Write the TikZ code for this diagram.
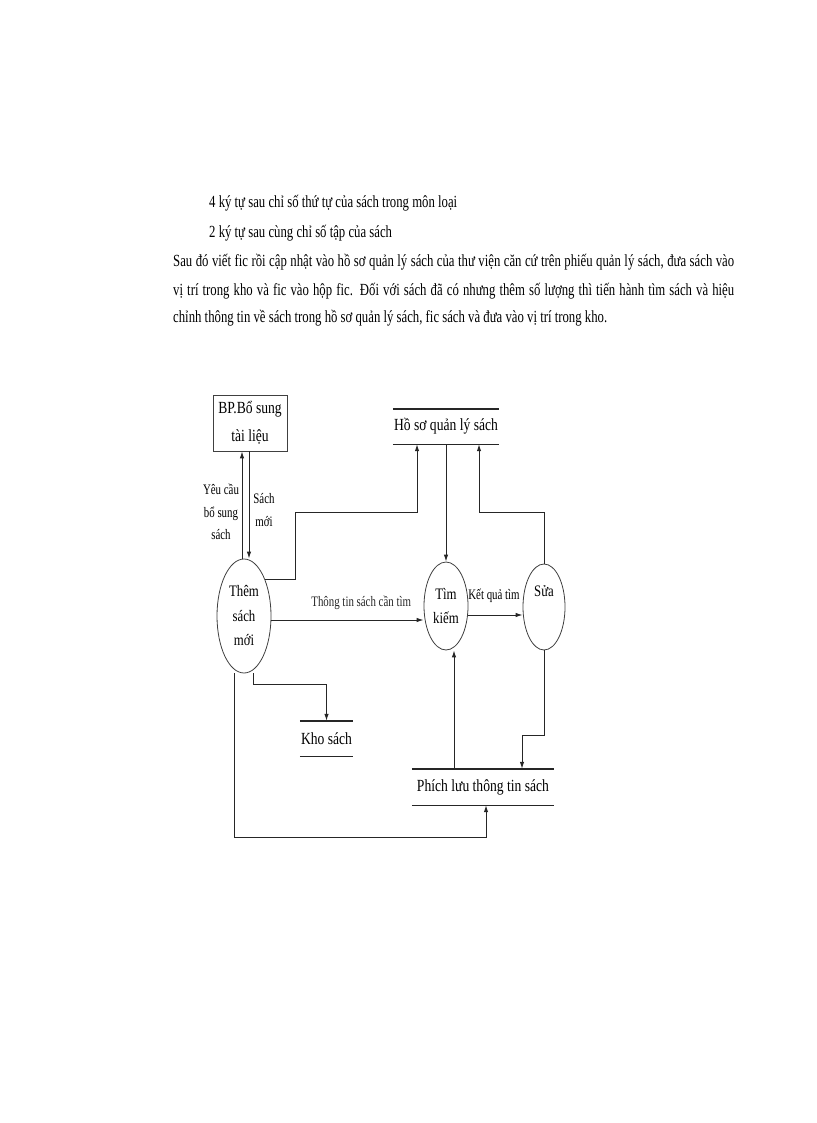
\documentclass[tikz,border=0pt]{standalone}
\usepackage{fontspec}
\setmainfont{Liberation Serif}[FakeStretch=0.8]
\newfontfamily\narrowfont{Liberation Serif}[FakeStretch=0.75]
\usetikzlibrary{arrows.meta,shapes.geometric}

\begin{document}
\begin{tikzpicture}[x=1pt,y=-1pt,
    process/.style={draw=black!75,line width=0.8pt,ellipse,inner sep=0pt,align=center,font=\fontsize{16}{24.5}\selectfont},
    entity/.style={draw=black!75,line width=0.8pt,inner sep=0pt,align=center,font=\fontsize{17}{28}\selectfont},
    store/.style={inner sep=0pt,font=\fontsize{17}{20}\selectfont},
    storeline/.style={line width=1.4pt,black!85},
    flow/.style={line width=1pt,black!85,-{Latex[length=7pt,width=4.5pt]}},
    lbl/.style={inner sep=0pt,align=center,font=\narrowfont\fontsize{14.5}{22.5}\selectfont},
    txt/.style={anchor=base west,inner sep=0pt,font=\narrowfont\fontsize{17}{29}\selectfont}]
  \useasboundingbox (0,0) rectangle (816,1123);

  % text above the diagram
  \node[txt] (line1) at (209,208) {4 ký tự sau chỉ số thứ tự của sách trong môn loại};
  \node[txt] (line2) at (209,237) {2 ký tự sau cùng chỉ số tập của sách};
  \node[txt] (par1) at (173,266) {\makebox[561pt][s]{Sau đó viết fic rồi cập nhật vào hồ sơ quản lý sách của thư viện căn cứ trên phiếu quản lý sách, đưa sách vào}};
  \node[txt] (par2) at (173,295) {\makebox[561pt][s]{vị trí trong kho và fic vào hộp fic. Đối với sách đã có nhưng thêm số lượng thì tiến hành tìm sách và hiệu}};
  \node[txt] (par3) at (173,322) {chỉnh thông tin về sách trong hồ sơ quản lý sách, fic sách và đưa vào vị trí trong kho.};

  % entity, processes, stores
  \node[entity,minimum width=74pt,minimum height=56pt] (bp) at (250,423) {BP.Bổ sung\\tài liệu};
  \node[process,minimum width=54pt,minimum height=114pt] (them) at (244,616) {Thêm\\sách\\mới};
  \node[process,minimum width=44pt,minimum height=88pt] (tim) at (446,606) {Tìm\\kiếm};
  \node[process,minimum width=42pt,minimum height=86pt] (sua) at (544,607) {Sửa\\\strut};
  \node[store,minimum width=106pt,minimum height=35pt] (hoso) at (446,426.5) {Hồ sơ quản lý sách};
  \node[store,minimum width=53pt,minimum height=35pt] (kho) at (326.5,738.5) {Kho sách};
  \node[store,minimum width=142pt,minimum height=36pt] (phich) at (483,787) {Phích lưu thông tin sách};
  \draw[storeline] (hoso.north west) -- (hoso.north east) (hoso.south west) -- (hoso.south east);
  \draw[storeline] (kho.north west) -- (kho.north east) (kho.south west) -- (kho.south east);
  \draw[storeline] (phich.north west) -- (phich.north east) (phich.south west) -- (phich.south east);

  % flows
  \draw[flow] ([xshift=-1pt]bp.south) -- ([xshift=-1pt]bp.south |- them.north);
  \draw[flow] ([xshift=-8pt]bp.south |- them.north) -- ([xshift=-8pt]bp.south);
  \node[lbl] (yeucau) at (221,512) {Yêu cầu\\bổ sung\\sách};
  \node[lbl] (sachmoi) at (264,510) {Sách\\mới};
  \draw[flow] (them.60) -- ++(30,0) -- ++(0,-67) -| ([xshift=-29pt]hoso.south);
  \draw[flow] (hoso.south) -- (tim.north);
  \draw[flow] (sua.north) -- ++(0,-51) -| ([xshift=33pt]hoso.south);
  \draw[flow] ([yshift=-4pt]them.east) -- ([yshift=-4pt]them.east -| tim.west)
    node[lbl,pos=0.59,above=10pt] (ttsach) {Thông tin sách cần tìm};
  \draw[flow] ([yshift=-9pt]tim.east) -- ([yshift=-9pt]tim.east -| sua.west);
  \node[lbl] (kqtim) at (494,596) {Kết quả tìm};
  \draw[flow] ([xshift=9pt]them.south) -- ++(0,11) -| (kho.north);
  \draw[flow] ([xshift=-10pt]them.south) -- ++(0,164) -| ([xshift=3pt]phich.south);
  \draw[flow] ([xshift=-29pt]phich.north) -- ([xshift=-29pt]phich.north |- tim.south);
  \draw[flow] (sua.south) -- ++(0,85) -| ([xshift=39pt]phich.north);
\end{tikzpicture}
\end{document}
